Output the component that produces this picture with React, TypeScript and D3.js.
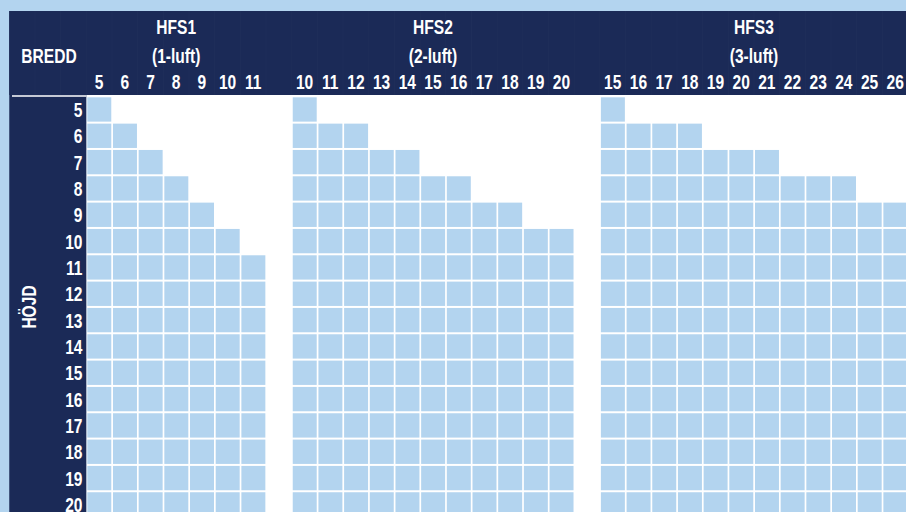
import React from "react";
import * as d3 from "d3";

// ---- data ----
const heights = [5, 6, 7, 8, 9, 10, 11, 12, 13, 14, 15, 16, 17, 18, 19, 20];
const groupNames = ["HFS1", "HFS2", "HFS3"];
const groupSubtitles = ["(1-luft)", "(2-luft)", "(3-luft)"];
const hfs1Widths = [5, 6, 7, 8, 9, 10, 11];
const hfs2Widths = [10, 11, 12, 13, 14, 15, 16, 17, 18, 19, 20];
const hfs3Widths = [15, 16, 17, 18, 19, 20, 21, 22, 23, 24, 25, 26];
// largest available width (bredd) for each height (höjd), per group
const hfs1MaxBredd = [5, 6, 7, 8, 9, 10, 11, 11, 11, 11, 11, 11, 11, 11, 11, 11];
const hfs2MaxBredd = [10, 12, 14, 16, 18, 20, 20, 20, 20, 20, 20, 20, 20, 20, 20, 20];
const hfs3MaxBredd = [15, 18, 21, 24, 26, 26, 26, 26, 26, 26, 26, 26, 26, 26, 26, 26];
const rowTitle = "HÖJD";
const colTitle = "BREDD";

const W = 906;
const H = 512;
const NAVY = "#1b2a57";
const LIGHT = "#b3d4ef";
const FONT = "'Liberation Sans', Arial, sans-serif";
const FS = 20.5;
const SX = 0.76;

type TProps = { x: number; y: number; anchor?: "start" | "middle" | "end"; rotate?: number; children: React.ReactNode };

function T({ x, y, anchor = "middle", rotate = 0, children }: TProps) {
  return (
    <g transform={`translate(${x},${y}) rotate(${rotate}) scale(${SX},1)`}>
      <text
        x={0}
        y={0}
        textAnchor={anchor}
        fontSize={FS}
        fontFamily={FONT}
        fontWeight={700}
        fill="#ffffff"
      >
        {children}
      </text>
    </g>
  );
}

export default function App() {
  const widthsByGroup = [hfs1Widths, hfs2Widths, hfs3Widths];
  const maxByGroup = [hfs1MaxBredd, hfs2MaxBredd, hfs3MaxBredd];

  const colKeys: string[] = ["l0", "l1", "l2"];
  widthsByGroup.forEach((ws, gi) => {
    ws.forEach((w) => colKeys.push(`g${gi}-${w}`));
    if (gi < 2) colKeys.push(`gap${gi}`);
  });
  const colPitch = 25.68;
  const x0 = 9.26;
  const x = d3
    .scaleBand<string>()
    .domain(colKeys)
    .range([x0, x0 + colKeys.length * colPitch])
    .padding(0);

  const rowPitch = 26.33;
  const y0 = 96.3;
  const y = d3
    .scaleBand<number>()
    .domain(heights)
    .range([y0, y0 + heights.length * rowPitch])
    .padding(0);

  const cw = x.bandwidth();
  const ch = y.bandwidth();

  const cells: { key: string; x: number; y: number }[] = [];
  widthsByGroup.forEach((ws, gi) => {
    heights.forEach((h, hi) => {
      ws.forEach((w) => {
        if (w <= maxByGroup[gi][hi]) {
          cells.push({ key: `${gi}-${h}-${w}`, x: x(`g${gi}-${w}`)!, y: y(h)! });
        }
      });
    });
  });

  const headerBottom = 95;
  const leftColEnd = x("l2")! + cw;

  return (
    <svg
      width={W}
      height={H}
      style={{ position: "absolute", left: 0, top: 0, display: "block" }}
    >
      <rect x={0} y={0} width={W} height={H} fill={LIGHT} />
      {/* white data area */}
      <rect x={leftColEnd} y={headerBottom} width={W - leftColEnd} height={H - headerBottom} fill="#ffffff" />
      {/* navy header */}
      <rect x={x0} y={11} width={W - x0} height={headerBottom - 11} fill={NAVY} />
      {/* navy left label column */}
      <rect x={x0} y={11} width={leftColEnd - x0} height={H - 11} fill={NAVY} />
      {/* very faint spreadsheet grid lines in header */}
      {colKeys.slice(1).map((k) => (
        <line
          key={"vg" + k}
          x1={x(k)!}
          x2={x(k)!}
          y1={11}
          y2={headerBottom}
          stroke="#ffffff"
          strokeOpacity={0.02}
        />
      ))}
      {/* white separator under header in label column */}
      <line x1={12} x2={leftColEnd} y1={96} y2={96} stroke="#ffffff" strokeWidth={1.6} />

      {/* cells */}
      {cells.map((c) => (
        <rect key={c.key} x={c.x + 1} y={c.y + 1} width={cw - 1.7} height={ch - 2} fill={LIGHT} />
      ))}

      {/* column title */}
      <T x={49} y={63}>{colTitle}</T>

      {/* group titles */}
      {widthsByGroup.map((ws, gi) => {
        const left = x(`g${gi}-${ws[0]}`)!;
        const right = x(`g${gi}-${ws[ws.length - 1]}`)! + cw;
        const cx = (left + right) / 2;
        return (
          <g key={"gt" + gi}>
            <T x={cx} y={34.3}>{groupNames[gi]}</T>
            <T x={cx} y={63}>{groupSubtitles[gi]}</T>
            {ws.map((w) => (
              <T key={"cl" + w} x={x(`g${gi}-${w}`)! + cw / 2} y={89}>
                {w}
              </T>
            ))}
          </g>
        );
      })}

      {/* row labels */}
      {heights.map((h) => (
        <T key={"rl" + h} x={82.5} y={y(h)! + 20.8} anchor="end">
          {h}
        </T>
      ))}

      {/* row title */}
      <T x={36} y={307} rotate={-90}>{rowTitle}</T>
    </svg>
  );
}
